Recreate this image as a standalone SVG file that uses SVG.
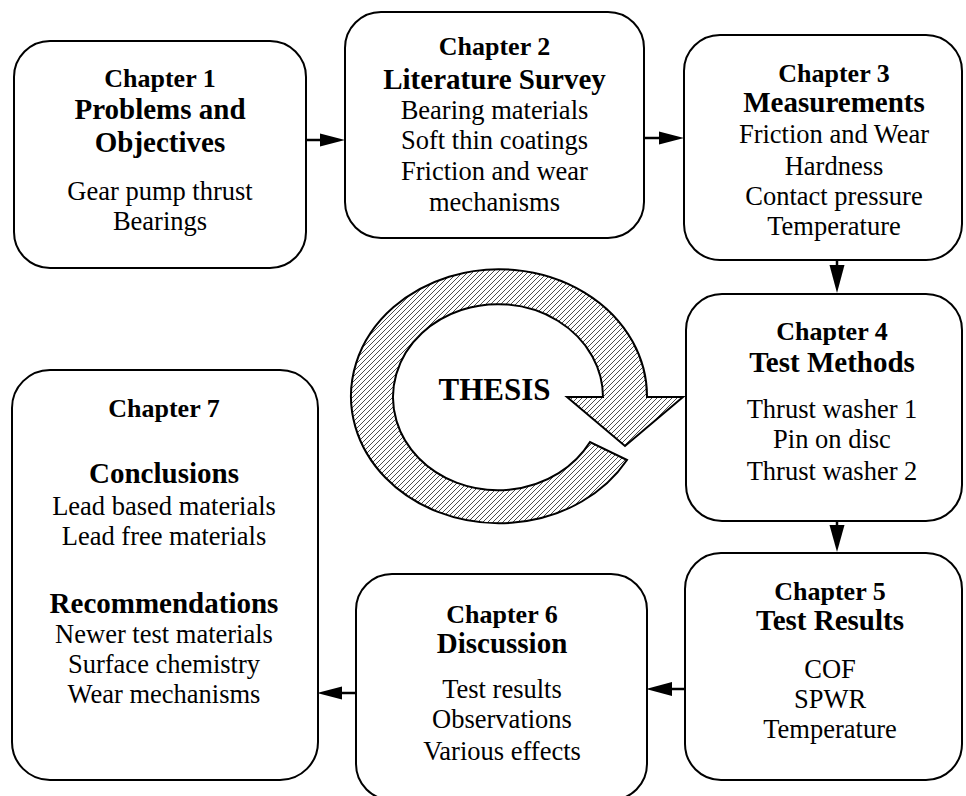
<svg xmlns="http://www.w3.org/2000/svg" width="966" height="796" viewBox="0 0 966 796">
<defs>
<style>
.box{fill:#fff;stroke:#000;stroke-width:2}
text{font-family:"Liberation Serif","Times New Roman",serif;text-anchor:middle;fill:#000}
.ch{font-size:26px;font-weight:bold}
.tt{font-size:29px;font-weight:bold}
.bd{font-size:26.5px}
.con{stroke:#000;stroke-width:2.5;fill:none}
.ah{fill:#000;stroke:none}
</style>
<pattern id="hatch" patternUnits="userSpaceOnUse" width="5" height="5">
<rect width="5" height="5" fill="#fff"/>
<path d="M-1,1 L1,-1 M0,5 L5,0 M4,6 L6,4" stroke="#000" stroke-width="0.7"/>
</pattern>
</defs>
<rect width="966" height="796" fill="#fff"/>

<g id="thesis">
<path d="M 627 460 A 148 127 0 1 1 647 397 L 683 397 L 625 446 L 567 397 L 603 397 A 105 93 0 1 0 590 442 Z" fill="url(#hatch)" stroke="#000" stroke-width="2" stroke-linejoin="miter"/>
<text x="494.5" y="400" style="font-size:31px;font-weight:bold">THESIS</text>
</g>

<g id="connectors">
<line class="con" x1="306" y1="140" x2="322" y2="140"/>
<polygon class="ah" points="345,140 320,133.5 320,146.5"/>
<line class="con" x1="644" y1="138" x2="662" y2="138"/>
<polygon class="ah" points="684,138 659,131.5 659,144.5"/>
<line class="con" x1="837" y1="260" x2="837" y2="268"/>
<polygon class="ah" points="837,293 829.5,265 844.5,265"/>
<line class="con" x1="837" y1="521" x2="837" y2="528"/>
<polygon class="ah" points="837,552 829.5,525 844.5,525"/>
<line class="con" x1="685" y1="689" x2="670" y2="689"/>
<polygon class="ah" points="646,689 672,682 672,696"/>
<line class="con" x1="356" y1="693" x2="340" y2="693"/>
<polygon class="ah" points="317,693 342,686.5 342,699.5"/>
</g>

<g id="ch1">
<rect class="box" x="14" y="41" width="292" height="227" rx="36" ry="36"/>
<text class="ch" x="160" y="87">Chapter 1</text>
<text class="tt" x="160" y="119">Problems and</text>
<text class="tt" x="160" y="152">Objectives</text>
<text class="bd" x="160" y="200">Gear pump thrust</text>
<text class="bd" x="160" y="230">Bearings</text>
</g>

<g id="ch2">
<rect class="box" x="345" y="12" width="299" height="226" rx="36" ry="36"/>
<text class="ch" x="494.5" y="55">Chapter 2</text>
<text class="tt" x="494.5" y="89">Literature Survey</text>
<text class="bd" x="494.5" y="119">Bearing materials</text>
<text class="bd" x="494.5" y="149">Soft thin coatings</text>
<text class="bd" x="494.5" y="180">Friction and wear</text>
<text class="bd" x="494.5" y="211">mechanisms</text>
</g>

<g id="ch3">
<rect class="box" x="684" y="35" width="278" height="225" rx="36" ry="36"/>
<text class="ch" x="834" y="82">Chapter 3</text>
<text class="tt" x="834" y="112">Measurements</text>
<text class="bd" x="834" y="143">Friction and Wear</text>
<text class="bd" x="834" y="175">Hardness</text>
<text class="bd" x="834" y="205">Contact pressure</text>
<text class="bd" x="834" y="235">Temperature</text>
</g>

<g id="ch4">
<rect class="box" x="686" y="294" width="276" height="227" rx="36" ry="36"/>
<text class="ch" x="832" y="340">Chapter 4</text>
<text class="tt" x="832" y="372">Test Methods</text>
<text class="bd" x="832" y="418">Thrust washer 1</text>
<text class="bd" x="832" y="448">Pin on disc</text>
<text class="bd" x="832" y="480">Thrust washer 2</text>
</g>

<g id="ch5">
<rect class="box" x="685" y="553" width="277" height="227" rx="36" ry="36"/>
<text class="ch" x="830" y="600">Chapter 5</text>
<text class="tt" x="830" y="630">Test Results</text>
<text class="bd" x="830" y="678">COF</text>
<text class="bd" x="830" y="708">SPWR</text>
<text class="bd" x="830" y="738">Temperature</text>
</g>

<g id="ch6">
<rect class="box" x="356" y="574" width="291" height="226" rx="36" ry="36"/>
<text class="ch" x="502" y="623">Chapter 6</text>
<text class="tt" x="502" y="653">Discussion</text>
<text class="bd" x="502" y="698">Test results</text>
<text class="bd" x="502" y="728">Observations</text>
<text class="bd" x="502" y="760">Various effects</text>
</g>

<g id="ch7">
<rect class="box" x="12" y="370" width="306" height="410" rx="38" ry="38"/>
<text class="ch" x="164" y="417">Chapter 7</text>
<text class="tt" x="164" y="483">Conclusions</text>
<text class="bd" x="164" y="515">Lead based materials</text>
<text class="bd" x="164" y="545">Lead free materials</text>
<text class="tt" x="164" y="613">Recommendations</text>
<text class="bd" x="164" y="643">Newer test materials</text>
<text class="bd" x="164" y="673">Surface chemistry</text>
<text class="bd" x="164" y="703">Wear mechanisms</text>
</g>
</svg>
